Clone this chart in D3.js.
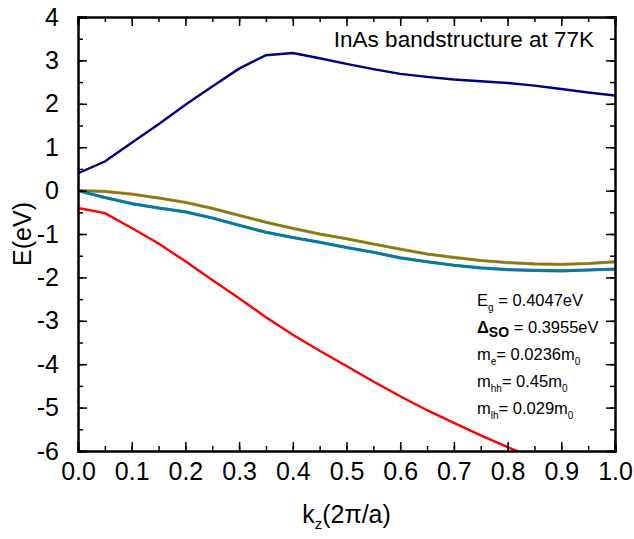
<!DOCTYPE html>
<html>
<head>
<meta charset="utf-8">
<script src="https://cdn.jsdelivr.net/npm/d3@7"></script>
<style>
  body { margin: 0; background: #fff; }
  svg { font-family: Arial, "Liberation Sans", sans-serif; }
</style>
</head>
<body>
<svg id="chart" width="634" height="539"></svg>
<script>
/* DATA */
const kz = [0, 0.05, 0.1, 0.15, 0.2, 0.25, 0.3, 0.35, 0.4, 0.45, 0.5,
  0.55, 0.6, 0.65, 0.7, 0.75, 0.8, 0.85, 0.9, 0.95, 1.0];

// conduction band
const eCB = [0.40, 0.67, 1.10, 1.53, 1.98, 2.40, 2.81, 3.12, 3.17, 3.05, 2.92,
  2.80, 2.69, 2.62, 2.56, 2.52, 2.48, 2.42, 2.34, 2.26, 2.19];
// heavy hole
const eHH = [0, -0.02, -0.08, -0.17, -0.27, -0.41, -0.57, -0.73, -0.87, -1.00, -1.11,
  -1.23, -1.35, -1.46, -1.54, -1.61, -1.66, -1.69, -1.70, -1.68, -1.64];
// light hole
const eLH = [0, -0.16, -0.30, -0.40, -0.49, -0.63, -0.80, -0.96, -1.08, -1.19, -1.31,
  -1.42, -1.55, -1.64, -1.72, -1.78, -1.82, -1.84, -1.85, -1.83, -1.81];
// split-off band
const eSO = [-0.40, -0.52, -0.86, -1.22, -1.63, -2.06, -2.48, -2.92, -3.32, -3.69, -4.04,
  -4.40, -4.74, -5.06, -5.35, -5.64, -5.91, -6.17, -6.42, -6.66, -6.90];

const xTicks = [0, 0.1, 0.2, 0.3, 0.4, 0.5, 0.6, 0.7, 0.8, 0.9, 1.0];
const yTicks = [4, 3, 2, 1, 0, -1, -2, -3, -4, -5, -6];

/* CONSTANTS */
const margin = { left: 78, right: 19, top: 17, bottom: 88 };
const width = 634, height = 539;
const major = 9, minor = 5;

const svg = d3.select("#chart");

/* SCALES */
const x = d3.scaleLinear().domain([0, 1]).range([margin.left, width - margin.right]);
const y = d3.scaleLinear().domain([-6, 4]).range([height - margin.bottom, margin.top]);

svg.append("clipPath").attr("id", "plot")
  .append("rect")
  .attr("x", x(0)).attr("y", y(4))
  .attr("width", x(1) - x(0)).attr("height", y(-6) - y(4));

/* LINES */
const line = vals => d3.line()
  .x((d, i) => x(kz[i]))
  .y(d => y(d))(vals);

const g = svg.append("g").attr("clip-path", "url(#plot)");

const bands = [
  { v: eHH, under: "#d9909c", color: "#808000" },
  { v: eLH, under: "#3a6fd0", color: "#00808a" },
  { v: eCB, under: null, color: "#000080" },
  { v: eSO, under: null, color: "#ff0000" }
];

bands.forEach(b => {
  if (b.under) {
    g.append("path").attr("d", line(b.v))
      .attr("fill", "none").attr("stroke", b.under).attr("stroke-width", 3.2);
  }
  g.append("path").attr("d", line(b.v))
    .attr("fill", "none").attr("stroke", b.color).attr("stroke-width", 2.4);
});

/* AXES - inward ticks on all four sides */
const xMinor = d3.range(0, 1.0001, 0.05);
const yMinor = d3.range(-6, 4.0001, 0.5);

const axB = svg.append("g").attr("transform", `translate(0,${y(-6)})`)
  .call(d3.axisBottom(x).tickValues(xMinor).tickSize(-minor).tickFormat(""));
const axBM = svg.append("g").attr("transform", `translate(0,${y(-6)})`)
  .call(d3.axisBottom(x).tickValues(xTicks).tickSize(-major)
    .tickFormat(d3.format(".1f")));
const axT = svg.append("g").attr("transform", `translate(0,${y(4)})`)
  .call(d3.axisTop(x).tickValues(xMinor).tickSize(-minor).tickFormat(""));
const axTM = svg.append("g").attr("transform", `translate(0,${y(4)})`)
  .call(d3.axisTop(x).tickValues(xTicks).tickSize(-major).tickFormat(""));

const axL = svg.append("g").attr("transform", `translate(${x(0)},0)`)
  .call(d3.axisLeft(y).tickValues(yMinor).tickSize(-minor).tickFormat(""));
const axLM = svg.append("g").attr("transform", `translate(${x(0)},0)`)
  .call(d3.axisLeft(y).tickValues(yTicks).tickSize(-major).tickPadding(major + 10)
    .tickFormat(d => String(d)));
const axR = svg.append("g").attr("transform", `translate(${x(1)},0)`)
  .call(d3.axisRight(y).tickValues(yMinor).tickSize(-minor).tickFormat(""));
const axRM = svg.append("g").attr("transform", `translate(${x(1)},0)`)
  .call(d3.axisRight(y).tickValues(yTicks).tickSize(-major).tickFormat(""));

[axB, axBM, axT, axTM, axL, axLM, axR, axRM].forEach(a => {
  a.selectAll("path.domain").attr("stroke", "#000").attr("stroke-width", 2);
  a.selectAll(".tick line").attr("stroke", "#000").attr("stroke-width", 1.5);
  a.selectAll(".tick text")
    .attr("font-size", 25).attr("fill", "#000")
    .attr("font-family", "Arial, 'Liberation Sans', sans-serif");
});
axBM.selectAll(".tick text").attr("dy", 0).attr("y", 29);

/* TITLES */
svg.append("text")
  .attr("transform", `translate(31,${(y(4) + y(-6)) / 2}) rotate(-90)`)
  .attr("text-anchor", "middle")
  .attr("font-size", 25)
  .text("E(eV)");

const xt = svg.append("text")
  .attr("x", (x(0) + x(1)) / 2).attr("y", 523)
  .attr("text-anchor", "middle")
  .attr("font-size", 25);
xt.append("tspan").text("k");
xt.append("tspan").attr("font-size", 15).attr("dy", 6).text("z");
xt.append("tspan").attr("dy", -6).text("(2\u03c0/a)");

svg.append("text")
  .attr("x", 594).attr("y", 47)
  .attr("text-anchor", "end")
  .attr("font-size", 22.5)
  .text("InAs bandstructure at 77K");

/* PARAMETER BLOCK */
const params = [
  { main: "E", sub: "g", rest: " = 0.4047eV", tail: "" },
  { main: "\u0394", sub: "SO", rest: " = 0.3955eV", tail: "", bold: true },
  { main: "m", sub: "e", rest: "= 0.0236m", tail: "0" },
  { main: "m", sub: "hh", rest: "= 0.45m", tail: "0" },
  { main: "m", sub: "lh", rest: "= 0.029m", tail: "0" }
];

params.forEach((p, i) => {
  const t = svg.append("text")
    .attr("x", 477).attr("y", 306 + i * 27)
    .attr("font-size", 16.5);
  t.append("tspan").attr("font-weight", p.bold ? "bold" : null).text(p.main);
  t.append("tspan")
    .attr("font-size", p.bold ? 14 : 10)
    .attr("font-weight", p.bold ? "bold" : null)
    .attr("dy", p.bold ? 4 : 5).text(p.sub);
  t.append("tspan").attr("dy", p.bold ? -4 : -5).text(p.rest);
  if (p.tail) {
    t.append("tspan").attr("font-size", 10).attr("dy", 5).text(p.tail);
  }
});
</script>
</body>
</html>
